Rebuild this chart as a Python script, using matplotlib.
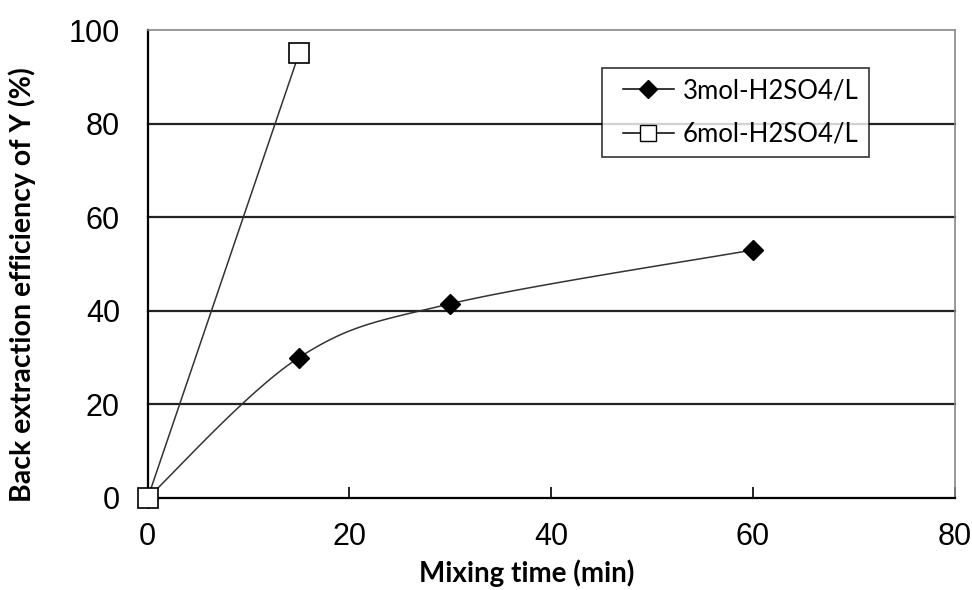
import numpy as np
import matplotlib.pyplot as plt
from matplotlib.legend_handler import HandlerLine2D

# data
time_3mol = [0, 15, 30, 60]
eff_3mol = [0, 30, 41.5, 53]
time_6mol = [0, 15]
eff_6mol = [0, 95]

x_ticks = [0, 20, 40, 60, 80]
y_ticks = [0, 20, 40, 60, 80, 100]


def smooth_curve(xs, ys, n=40):
    # Catmull-Rom spline through the points (like Excel's smoothed line)
    p = np.column_stack([xs, ys]).astype(float)
    p = np.vstack([p[0], p, p[-1]])
    out = []
    t = np.linspace(0, 1, n)[:, None]
    for i in range(1, len(p) - 2):
        p0, p1, p2, p3 = p[i - 1], p[i], p[i + 1], p[i + 2]
        seg = 0.5 * ((2 * p1) + (-p0 + p2) * t
                     + (2 * p0 - 5 * p1 + 4 * p2 - p3) * t ** 2
                     + (-p0 + 3 * p1 - 3 * p2 + p3) * t ** 3)
        out.append(seg)
    out = np.vstack(out)
    return out[:, 0], out[:, 1]


fig = plt.figure(figsize=(9.72, 5.9), dpi=100)
ax = fig.add_axes([0.152, 0.156, 0.830, 0.793])

for y in y_ticks[1:-1]:
    ax.axhline(y, color='#222222', lw=1.6, zorder=1)

sx, sy = smooth_curve(time_3mol, eff_3mol)
ax.plot(sx, sy, color='#333333', lw=1.1, zorder=3)
ax.plot(time_3mol, eff_3mol, ls='none', marker='D', ms=10, color='black', zorder=4)
ax.plot(time_6mol, eff_6mol, color='#333333', lw=1.1, zorder=3)
ax.plot(time_6mol, eff_6mol, ls='none', marker='s', ms=15, mfc='white', mec='black', mew=1.2, zorder=5)

# legend proxies
h1, = ax.plot([], [], color='black', lw=1.1, marker='D', ms=9, label='3mol-H2SO4/L')
h2, = ax.plot([], [], color='black', lw=1.1, marker='s', ms=12, mfc='white', mec='black', label='6mol-H2SO4/L')
leg = ax.legend(handles=[h1, h2], loc='upper left', bbox_to_anchor=(0.5626, 0.9188),
                frameon=True, fancybox=False, edgecolor='black', borderpad=0.4,
                borderaxespad=0, handlelength=2.4, handletextpad=0.35, labelspacing=0.72,
                handler_map={h1: HandlerLine2D(xpad=0.42), h2: HandlerLine2D(xpad=0.42)},
                prop={'family': 'Lato', 'size': 18.5})
leg.get_frame().set_linewidth(1.2)

ax.set_xlim(0, 80)
ax.set_ylim(0, 100)
ax.set_xticks(x_ticks)
ax.set_yticks(y_ticks)
ax.tick_params(axis='x', direction='in', length=8, width=1.2, pad=17,
               labelsize=22)
ax.tick_params(axis='y', length=0, pad=20, labelsize=22)
for lab in ax.get_xticklabels() + ax.get_yticklabels():
    lab.set_family('Liberation Sans')

for s in ['left', 'bottom']:
    ax.spines[s].set_color('black')
    ax.spines[s].set_linewidth(1.6)
for s in ['top', 'right']:
    ax.spines[s].set_color('#888888')
    ax.spines[s].set_linewidth(1.2)

ax.set_xlabel('Mixing time (min)', family='Lato', fontweight='bold', fontsize=20)
ax.set_ylabel('Back extraction efficiency of Y (%)', family='Lato',
              fontweight='bold', fontsize=20.5)
ax.xaxis.set_label_coords(0.4697, -0.132)
ax.yaxis.set_label_coords(-0.139, 0.455)

for m in ax.lines:
    m.set_clip_on(False)

fig.savefig('out.png', dpi=100)
